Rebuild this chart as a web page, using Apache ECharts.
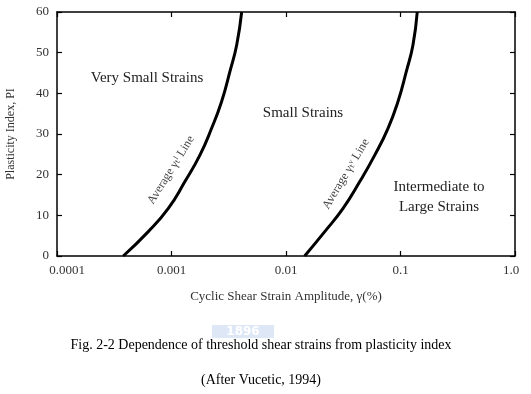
<!DOCTYPE html>
<html><head><meta charset="utf-8">
<script src="https://cdn.jsdelivr.net/npm/echarts@6/dist/echarts.min.js"></script>
<style>html,body{margin:0;padding:0;background:#fff}#c{width:531px;height:394px}</style>
</head><body><div id="c"></div>
<script>
// Average gamma_t^l line: [strain %, PI]
const lowerLine = [[0.000379,0],[0.000627,6.0],[0.000938,11.7],[0.00131,18.3],[0.00177,24.8],[0.00224,31.4],[0.00274,38.0],[0.00324,45.4],[0.00371,51.9],[0.0041,60]];
// Average gamma_t^v line
const upperLine = [[0.01455,0],[0.0218,6.0],[0.0315,11.7],[0.0441,18.3],[0.0596,24.8],[0.0778,31.4],[0.0951,38.0],[0.1125,45.4],[0.1285,51.9],[0.140,60]];
const xTickLabels = ['0.0001','0.001','0.01','0.1','1.0'];

const serif = '"Liberation Serif", "DejaVu Serif", serif';
const chart = echarts.init(document.getElementById('c'), null, {renderer:'canvas'});
const axisLineStyle = {color:'#000', width:1.5};
const tickStyle = {color:'#000', width:1.2};
chart.setOption({
  animation:false,
  grid:{left:57, right:16, top:12, bottom:138, containLabel:false, outerBoundsMode:'none'},
  xAxis:[{
    type:'log', logBase:10, min:0.0001, max:1,
    axisLine:{onZero:false, lineStyle:axisLineStyle},
    axisTick:{inside:true, length:5, lineStyle:tickStyle},
    splitLine:{show:false}, minorTick:{show:false},
    axisLabel:{
      margin:8, fontFamily:serif, fontSize:13, color:'#333',
      formatter:function(v){
        const i = Math.round(Math.log10(v))+4;
        if(i===0) return '{a|'+xTickLabels[i]+'}';
        if(i===4) return '{b|'+xTickLabels[i]+'}';
        return xTickLabels[i];
      },
      rich:{a:{fontFamily:serif,fontSize:13,color:'#333',padding:[0,0,0,20]},
            b:{fontFamily:serif,fontSize:13,color:'#333',padding:[0,8,0,0]}}
    },
    name:'Cyclic Shear Strain Amplitude, γ(%)', nameLocation:'middle', nameGap:34,
    nameTextStyle:{fontFamily:serif, fontSize:13, color:'#333'}
  },{
    type:'log', logBase:10, min:0.0001, max:1, position:'top',
    axisLine:{show:true, onZero:false, lineStyle:axisLineStyle},
    axisTick:{show:true, inside:true, length:5, lineStyle:tickStyle},
    axisLabel:{show:false}, splitLine:{show:false}
  }],
  yAxis:[{
    type:'value', min:0, max:60, interval:10,
    axisLine:{show:true, onZero:false, lineStyle:axisLineStyle},
    axisTick:{show:true, inside:true, length:5, lineStyle:tickStyle},
    splitLine:{show:false},
    axisLabel:{margin:8, fontFamily:serif, fontSize:13, color:'#333'},
    name:'Plasticity Index, PI', nameLocation:'middle', nameGap:40,
    nameTextStyle:{fontFamily:serif, fontSize:12, color:'#333'}
  },{
    type:'value', min:0, max:60, interval:10, position:'right',
    axisLine:{show:true, onZero:false, lineStyle:axisLineStyle},
    axisTick:{show:true, inside:true, length:5, lineStyle:tickStyle},
    axisLabel:{show:false}, splitLine:{show:false}
  }],
  series:[
    {type:'line', data:lowerLine, smooth:0.5, symbol:'none', lineStyle:{color:'#000', width:3}},
    {type:'line', data:upperLine, smooth:0.5, symbol:'none', lineStyle:{color:'#000', width:3}}
  ],
  graphic:[
    {type:'text', x:147, y:78, style:{text:'Very Small Strains', font:'15px '+serif, fill:'#222', align:'center', verticalAlign:'middle'}},
    {type:'text', x:303, y:113, style:{text:'Small Strains', font:'15px '+serif, fill:'#222', align:'center', verticalAlign:'middle'}},
    {type:'text', x:439, y:197, style:{text:'Intermediate to\nLarge Strains', font:'15px '+serif, fill:'#222', align:'center', verticalAlign:'middle', lineHeight:20}},
    {type:'text', x:171, y:170, rotation:58*Math.PI/180, style:{text:'Average γₜˡ Line', font:'12px '+serif, fill:'#444', align:'center', verticalAlign:'middle'}},
    {type:'text', x:346, y:174, rotation:59*Math.PI/180, style:{text:'Average γₜᵛ Line', font:'12px '+serif, fill:'#444', align:'center', verticalAlign:'middle'}},
    {type:'rect', shape:{x:212, y:325, width:62, height:13}, style:{fill:'#dde7f6'}},
    {type:'text', x:243, y:332, style:{text:'1896', font:'bold 12px "DejaVu Sans", sans-serif', fill:'#ffffff', align:'center', verticalAlign:'middle'}},
    {type:'text', x:261, y:345, style:{text:'Fig. 2-2 Dependence of threshold shear strains from plasticity index', font:'14px "Liberation Serif", serif', fill:'#000', align:'center', verticalAlign:'middle'}},
    {type:'text', x:261, y:380, style:{text:'(After Vucetic, 1994)', font:'14px "Liberation Serif", serif', fill:'#000', align:'center', verticalAlign:'middle'}}
  ]
});
</script></body></html>
